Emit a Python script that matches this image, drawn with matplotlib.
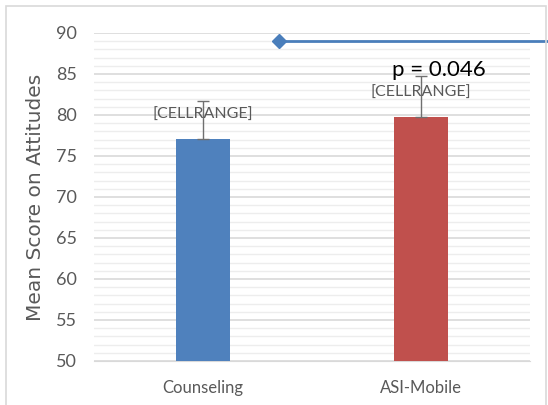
import matplotlib
matplotlib.use("Agg")
import matplotlib.pyplot as plt
from matplotlib.patches import Rectangle
from matplotlib.ticker import MultipleLocator

groups = ["Counseling", "ASI-Mobile"]
means = [77.1, 79.8]
err_up = [4.6, 5.0]
bar_colors = ["#4F81BD", "#C0504D"]
data_labels = ["[CELLRANGE]", "[CELLRANGE]"]
label_y = [80.0, 82.7]
line_x = [0.35, 1.75]
line_y = [89.0, 89.0]
p_text = "p = 0.046"
p_x, p_y = 1.08, 85.5

narrow = ["Lato", "DejaVu Sans"]
gray = "#595959"

fig = plt.figure(figsize=(5.48, 4.05), dpi=100)
fig.patches.append(Rectangle((6 / 548, -0.02), 540 / 548, 1 - 6 / 405 + 0.02,
                             transform=fig.transFigure, fill=False,
                             edgecolor="#D9D9D9", linewidth=1.2))
ax = fig.add_axes([94 / 548, 1 - 361 / 405, 436 / 548, 328 / 405])

x = range(len(groups))
ax.bar(x, [m - 50 for m in means], bottom=50, width=0.25, color=bar_colors, zorder=3)
ax.errorbar(x, means, yerr=[[0, 0], err_up], fmt="none", ecolor="#6F6F6F",
            elinewidth=1, capsize=4, capthick=1, zorder=4)

for i, t in enumerate(data_labels):
    ax.text(i, label_y[i], t, ha="center", va="center",
            fontsize=11.5, color=gray, family=narrow, zorder=5)

ax.text(p_x, p_y, p_text, ha="center", va="center", fontsize=16,
        color="black", family=narrow, zorder=6)

ax.plot(line_x, line_y, color="#4A7EBB", linewidth=2, marker="D",
        markevery=[0], markersize=7, clip_on=False, zorder=5)

ax.set_xlim(-0.5, 1.5)
ax.set_ylim(50, 90)
ax.yaxis.set_major_locator(MultipleLocator(5))
ax.yaxis.set_minor_locator(MultipleLocator(1))
ax.grid(which="major", axis="y", color="#D9D9D9", linewidth=1.2, zorder=0)
ax.grid(which="minor", axis="y", color="#EDEDED", linewidth=1, zorder=0)
ax.set_axisbelow(True)
for s in ["top", "right", "left"]:
    ax.spines[s].set_visible(False)
ax.spines["bottom"].set_color("#D9D9D9")
ax.tick_params(axis="both", which="both", length=0)
ax.tick_params(axis="y", pad=12, labelsize=13, labelcolor=gray)
ax.tick_params(axis="x", pad=14, labelsize=12, labelcolor=gray)
ax.set_xticks(list(x))
ax.set_xticklabels(groups, family=narrow)
for lab in ax.get_yticklabels():
    lab.set_family(narrow)
ax.set_ylabel("Mean Score on Attitudes", fontsize=14.5, color=gray,
              family=["DejaVu Sans"])
ax.yaxis.set_label_coords(-0.112, 0.5)

fig.savefig("out.png", dpi=100)
